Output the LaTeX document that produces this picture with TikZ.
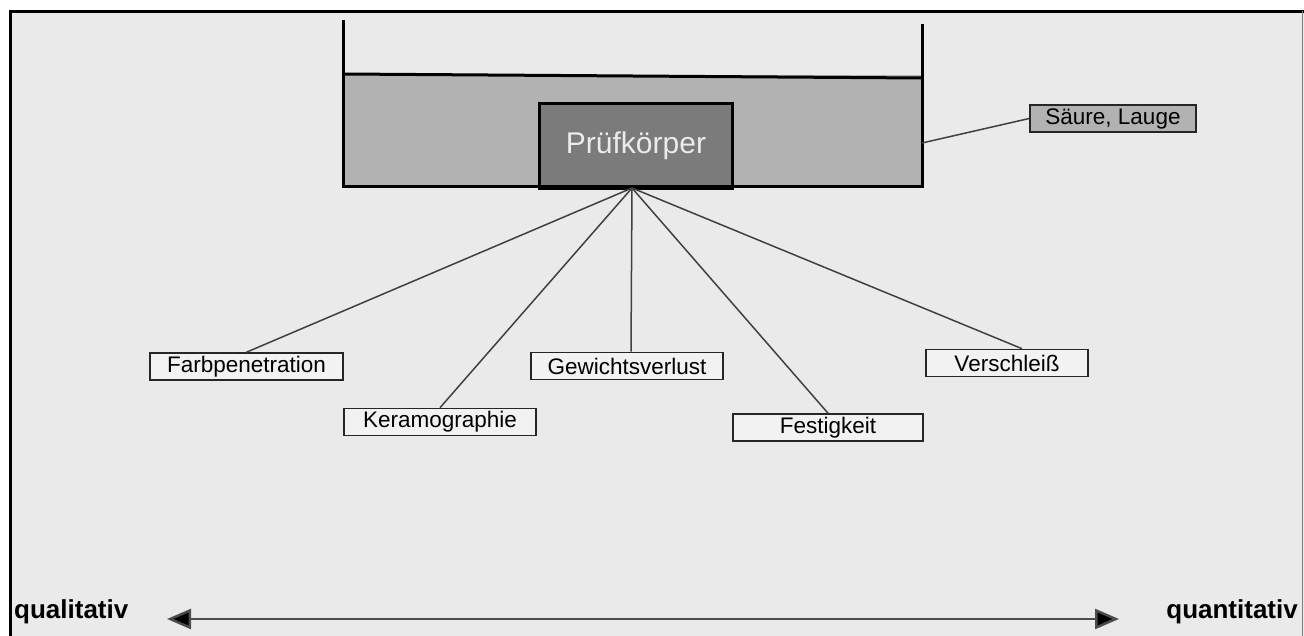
\documentclass[tikz,border=0pt]{standalone}
\usepackage{fontspec}
\setmainfont{Liberation Sans}
\usetikzlibrary{arrows.meta}
\definecolor{bg}{HTML}{EAEAEA}
\definecolor{liquid}{HTML}{B2B2B2}
\definecolor{specimen}{HTML}{7B7B7B}
\definecolor{boxfill}{HTML}{F2F2F2}
\definecolor{linegray}{HTML}{404040}
\tikzset{
  labelbox/.style={draw=black!85, line width=1.6pt, fill=boxfill, inner sep=0pt,
    minimum height=27pt, font=\fontsize{22.5}{25}\selectfont},
  conn/.style={draw=linegray, line width=1.5pt},
  wall/.style={draw=black, line width=3pt},
  endlabel/.style={font=\bfseries\fontsize{26}{30}\selectfont, inner sep=0pt}
}
\begin{document}
\begin{tikzpicture}[x=1pt,y=-1pt]
\useasboundingbox (0,0) rectangle (1304,636);
% background frame
\fill[white] (0,0) rectangle (1304,636);
\fill[bg] (10,11) rectangle (1304,636);
\draw[black, line width=3pt] (10,636) -- (10,11.5) -- (1304,11.5);
\draw[gray, line width=1pt] (1302,11) -- (1302,636);
% beaker liquid and specimen
\fill[liquid] (343,75) rectangle (922,187);
\node[draw=black, line width=3pt, fill=specimen, inner sep=0pt,
  minimum width=193pt, minimum height=85pt, anchor=north west,
  text=black!8, font=\fontsize{30}{34}\selectfont] (pk) at (538,102) {Prüfkörper};
\draw[wall] (343,20) -- (343,187) -- (922,187) -- (922,24);
\draw[wall] (343,74) -- (922,78);
\coordinate (rw) at (922,143);
\coordinate (src) at (632,188);
% Säure, Lauge
\node[labelbox, fill=liquid, minimum width=166pt] (sl) at (1113,118.5) {Säure, Lauge};
\draw[conn] (rw) -- (sl.west);
% result boxes
\node[labelbox, minimum width=193pt] (fp) at (246.5,366.5) {Farbpenetration};
\node[labelbox, minimum width=192pt] (ke) at (440,422) {Keramographie};
\node[labelbox, minimum width=192pt] (gv) at (627,366) {Gewichtsverlust};
\node[labelbox, minimum width=190pt] (fe) at (828,427.5) {Festigkeit};
\node[labelbox, minimum width=162pt] (vs) at (1007,363) {Verschleiß};
\draw[conn] (src) -- (fp.north);
\draw[conn] (src) -- (ke.north);
\draw[conn] (src) -- ([xshift=4pt]gv.north);
\draw[conn] (src) -- (fe.north);
\draw[conn] (src) -- ([xshift=15pt]vs.north);
% axis
\node[endlabel, anchor=west] (ql) at (14,612) {qualitativ};
\node[endlabel, anchor=east] (qn) at (1298,612) {quantitativ};
\coordinate (al) at (167,619);
\coordinate (ar) at (1119,619);
\draw[draw=black!70, line width=2.5pt,
  {Triangle[length=24pt,width=20pt,fill=black]}-{Triangle[length=24pt,width=20pt,fill=black]}]
  (al) -- (ar);
\end{tikzpicture}
\end{document}
